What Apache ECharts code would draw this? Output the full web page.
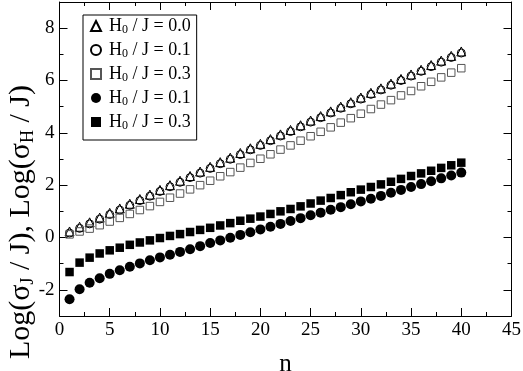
<!DOCTYPE html>
<html>
<head>
<meta charset="utf-8">
<script src="https://cdn.jsdelivr.net/npm/echarts@6/dist/echarts.min.js"></script>
<style>
  html, body { margin: 0; padding: 0; background: #fff; }
  #chart { width: 523px; height: 371px; }
</style>
</head>
<body>
<div id="chart"></div>
<script>
// n values (x axis)
const nValues = [1, 2, 3, 4, 5, 6, 7, 8, 9, 10, 11, 12, 13, 14, 15, 16, 17, 18, 19, 20,
  21, 22, 23, 24, 25, 26, 27, 28, 29, 30, 31, 32, 33, 34, 35, 36, 37, 38, 39, 40]

// open triangles, H0/J = 0.0
const triOpen00 = [0.23, 0.41, 0.58, 0.76, 0.94, 1.11, 1.29, 1.47, 1.64, 1.82,
  2.00, 2.17, 2.35, 2.52, 2.70, 2.88, 3.05, 3.23, 3.41, 3.58,
  3.76, 3.94, 4.11, 4.29, 4.47, 4.64, 4.82, 5.00, 5.17, 5.35,
  5.53, 5.70, 5.88, 6.06, 6.23, 6.41, 6.59, 6.76, 6.94, 7.11]

// open circles, H0/J = 0.1
const circOpen01 = [0.17, 0.35, 0.52, 0.70, 0.88, 1.05, 1.23, 1.41, 1.58, 1.76,
  1.94, 2.11, 2.29, 2.46, 2.64, 2.82, 2.99, 3.17, 3.35, 3.52,
  3.70, 3.88, 4.05, 4.23, 4.41, 4.58, 4.76, 4.94, 5.11, 5.29,
  5.47, 5.64, 5.82, 6.00, 6.17, 6.35, 6.53, 6.70, 6.88, 7.05]

// open squares, H0/J = 0.3
const sqOpen03 = [0.12, 0.23, 0.34, 0.47, 0.61, 0.75, 0.90, 1.05, 1.20, 1.36,
  1.52, 1.68, 1.84, 2.00, 2.17, 2.34, 2.50, 2.67, 2.85, 3.01,
  3.18, 3.36, 3.52, 3.70, 3.87, 4.04, 4.21, 4.39, 4.56, 4.73,
  4.91, 5.08, 5.25, 5.43, 5.60, 5.78, 5.95, 6.12, 6.30, 6.47]

// filled circles, H0/J = 0.1
const circFill01 = [-2.36, -1.98, -1.73, -1.56, -1.39, -1.25, -1.12, -0.99, -0.87, -0.76,
  -0.66, -0.55, -0.45, -0.33, -0.21, -0.11, -0.01, 0.10, 0.20, 0.31,
  0.41, 0.52, 0.63, 0.74, 0.85, 0.95, 1.06, 1.16, 1.27, 1.38,
  1.48, 1.59, 1.71, 1.82, 1.93, 2.04, 2.15, 2.26, 2.37, 2.48]

// filled squares, H0/J = 0.3
const sqFill03 = [-1.32, -0.96, -0.77, -0.61, -0.49, -0.39, -0.28, -0.19, -0.11, -0.02,
  0.06, 0.13, 0.21, 0.29, 0.37, 0.46, 0.55, 0.64, 0.72, 0.80,
  0.90, 1.00, 1.09, 1.19, 1.30, 1.41, 1.51, 1.62, 1.73, 1.83,
  1.93, 2.03, 2.13, 2.24, 2.35, 2.45, 2.55, 2.66, 2.76, 2.86]

// tick labels
const yMajor = [-2, 0, 2, 4, 6, 8]
const yMinor = [-1, 1, 3, 5, 7]

// legend labels (rich text, subscript 0)
const seriesNames = ['tri00', 'circ01', 'sq03', 'fcirc01', 'fsq03']
const legendLabels = {
  tri00: '{g| }{m|H}{s|0}{m| / J = 0.0}',
  circ01: '{g| }{m|H}{s|0}{m| / J = 0.1}',
  sq03: '{g| }{m|H}{s|0}{m| / J = 0.3}',
  fcirc01: '{g| }{m|H}{s|0}{m| / J = 0.1}',
  fsq03: '{g| }{m|H}{s|0}{m| / J = 0.3}'
}

const FONT = '"Liberation Serif", "DejaVu Serif", serif'

function pairs(values) {
  return nValues.map((n, i) => [n, values[i]])
}

const chart = echarts.init(document.getElementById('chart'))

const lineStyle = { color: '#000', width: 1 }

// 一个y轴配置（主刻度或次刻度）
function yAxisOf(position, ticks, length, withLabel, withLine) {
  return {
    type: 'value',
    position: position,
    min: -3,
    max: 9,
    axisLine: { show: withLine, onZero: false, lineStyle: lineStyle },
    axisTick: { show: true, inside: true, length: length, customValues: ticks, lineStyle: lineStyle },
    axisLabel: {
      show: withLabel,
      customValues: yMajor,
      fontFamily: FONT,
      fontSize: 19,
      color: '#000',
      margin: 5
    },
    splitLine: { show: false }
  }
}

function xAxisOf(position, withLabel) {
  return {
    type: 'value',
    position: position,
    min: 0,
    max: 45,
    interval: 5,
    name: withLabel ? 'n' : '',
    nameLocation: 'middle',
    nameGap: 36,
    nameTextStyle: { fontFamily: FONT, fontSize: 25, color: '#000' },
    axisLine: { show: true, onZero: false, lineStyle: lineStyle },
    axisTick: { show: true, inside: true, length: 8, lineStyle: lineStyle },
    minorTick: { show: true, splitNumber: 2, length: 4, lineStyle: lineStyle },
    axisLabel: { show: withLabel, fontFamily: FONT, fontSize: 19, color: '#000', margin: 5 },
    splitLine: { show: false },
    minorSplitLine: { show: false }
  }
}

const openStyle = (c) => ({ color: 'rgba(0,0,0,0)', borderColor: c, borderWidth: 1, opacity: 1 })
const fillStyle = { color: '#000', borderWidth: 0, opacity: 1 }

const option = {
  animation: false,
  backgroundColor: '#fff',
  grid: { left: 59.5, right: 11.5, top: 2, bottom: 55, containLabel: false, outerBoundsMode: 'none' },
  xAxis: [xAxisOf('bottom', true), xAxisOf('top', false)],
  yAxis: [
    yAxisOf('left', yMajor, 8, true, true),
    yAxisOf('left', yMinor, 4, false, false),
    yAxisOf('right', yMajor, 8, false, true),
    yAxisOf('right', yMinor, 4, false, false)
  ],
  legend: {
    data: seriesNames,
    orient: 'vertical',
    left: 83,
    top: 15,
    padding: [2, 6, 8, 7],
    itemGap: 5,
    itemWidth: 10,
    itemHeight: 10,
    borderColor: '#000',
    borderWidth: 1,
    backgroundColor: '#fff',
    formatter: name => legendLabels[name],
    textStyle: {
      rich: {
        g: { width: 3, fontSize: 18, lineHeight: 20 },
        m: { fontFamily: FONT, fontSize: 18, lineHeight: 20, color: '#000' },
        s: { fontFamily: FONT, fontSize: 12, lineHeight: 4, verticalAlign: 'bottom', color: '#000' }
      }
    }
  },
  graphic: [
    {
      type: 'text',
      x: 21,
      y: 222,
      rotation: Math.PI / 2,
      style: {
        text: '{m|Log(σ}{s|J}{m| / J), Log(σ}{s|H}{m| / J)}',
        align: 'center',
        verticalAlign: 'middle',
        rich: {
          m: { fontFamily: FONT, fontSize: 30, lineHeight: 32, fill: '#000' },
          s: { fontFamily: FONT, fontSize: 18, lineHeight: 6, verticalAlign: 'bottom', fill: '#000' }
        }
      }
    }
  ],
  series: [
    {
      name: 'tri00', type: 'scatter', symbol: 'triangle', symbolSize: 9,
      data: pairs(triOpen00),
      itemStyle: openStyle('#000')
    },
    {
      name: 'circ01', type: 'scatter', symbol: 'circle', symbolSize: 8,
      data: pairs(circOpen01),
      itemStyle: openStyle('#000')
    },
    {
      name: 'sq03', type: 'scatter', symbol: 'rect', symbolSize: 7.5,
      data: pairs(sqOpen03),
      itemStyle: openStyle('#555')
    },
    {
      name: 'fcirc01', type: 'scatter', symbol: 'circle', symbolSize: 10,
      data: pairs(circFill01),
      itemStyle: fillStyle
    },
    {
      name: 'fsq03', type: 'scatter', symbol: 'rect', symbolSize: 8.5,
      data: pairs(sqFill03),
      itemStyle: fillStyle
    }
  ]
}

chart.setOption(option)
</script>
</body>
</html>
